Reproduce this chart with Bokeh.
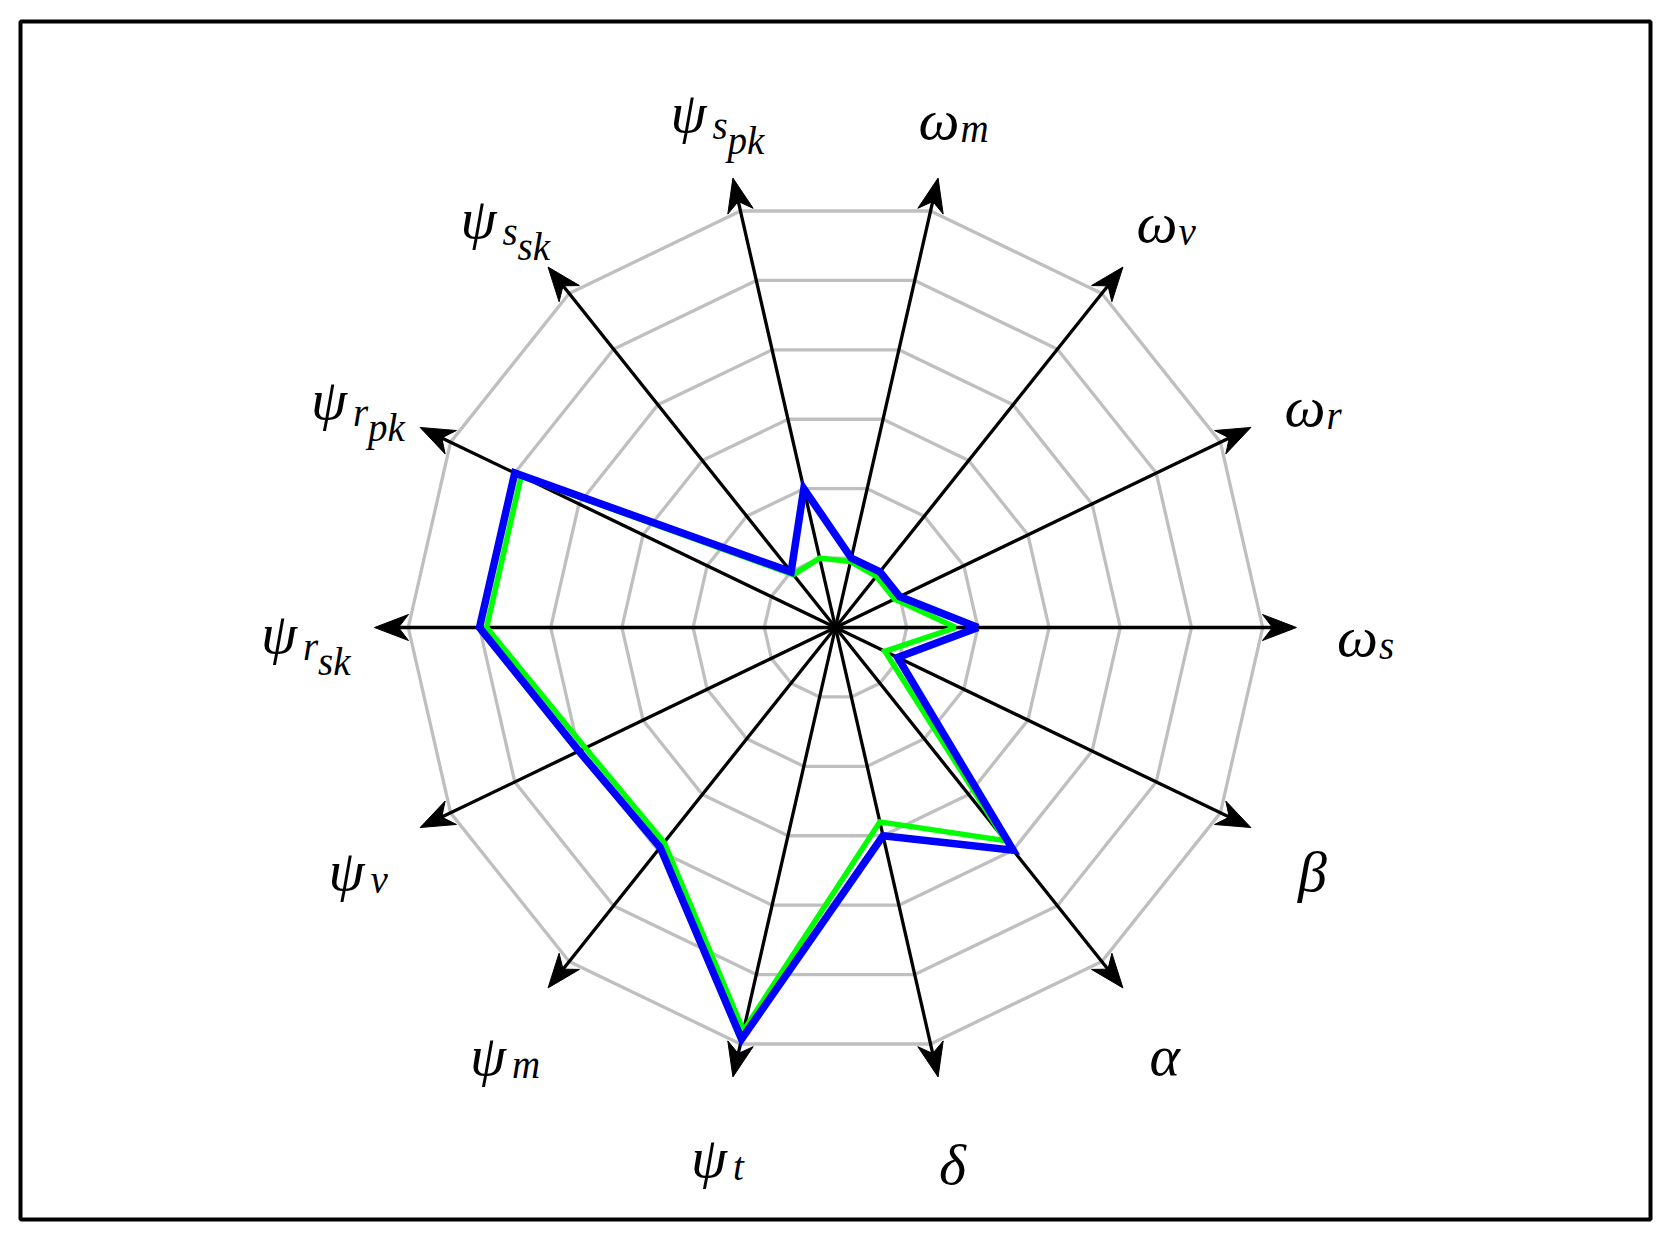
import numpy as np
from bokeh.plotting import figure
from bokeh.models import ColumnDataSource
from bokeh.core.properties import value
from bokeh.embed import file_html
from bokeh.resources import INLINE

# ---------------- data ----------------
symbols = ["ω", "ω", "ω", "ω", "ψ", "ψ", "ψ", "ψ", "ψ", "ψ", "ψ", "δ", "α", "β"]
subs = ["s", "r", "v", "m", "s", "s", "r", "r", "v", "m", "t", "", "", ""]
subsubs = ["", "", "", "", "pk", "sk", "pk", "sk", "", "", "", "", "", ""]
blue_values = [2.0, 1.0, 1.0, 1.0, 2.0, 1.0, 5.0, 5.0, 4.0, 3.95, 5.93, 3.0, 4.0, 0.97]
green_values = [1.69, 0.92, 0.92, 0.95, 1.0, 0.95, 4.9, 4.9, 3.9, 3.86, 5.81, 2.8, 3.83, 0.77]
ring_levels = [1, 2, 3, 4, 5, 6]

# ---------------- geometry / style ----------------
PX = 71.2                      # pixels per ring unit
n = len(symbols)
theta = np.arange(n) * 2 * np.pi / n
R_TIP = 461 / PX
R_LAB = 530 / PX
FONT = value("Liberation Serif")

W, H = 1658, 1234
p = figure(width=W, height=H, output_backend="svg", toolbar_location=None,
           x_axis_type=None, y_axis_type=None,
           x_range=(-815 / PX, 815 / PX), y_range=(-(1219 - 627) / PX, (627 - 21) / PX),
           min_border_left=20, min_border_right=8, min_border_top=21, min_border_bottom=15)
p.grid.visible = False
p.outline_line_color = "black"
p.outline_line_width = 4
p.background_fill_color = "white"
p.border_fill_color = "white"

# grid rings
for lv in ring_levels:
    xs = list(lv * np.cos(theta)) + [lv * np.cos(theta[0])]
    ys = list(lv * np.sin(theta)) + [lv * np.sin(theta[0])]
    p.line(xs, ys, line_color="#bfbfbf", line_width=3.3)

# axes with stealth arrow heads
HEAD_L, HEAD_HW, NOTCH = 34 / PX, 13 / PX, 24 / PX
head_xs, head_ys = [], []
for t in theta:
    c, s = np.cos(t), np.sin(t)
    p.line([0, (R_TIP - NOTCH) * c], [0, (R_TIP - NOTCH) * s], line_color="black", line_width=3.3)
    tip = np.array([R_TIP * c, R_TIP * s])
    back = np.array([(R_TIP - HEAD_L) * c, (R_TIP - HEAD_L) * s])
    notch = np.array([(R_TIP - NOTCH) * c, (R_TIP - NOTCH) * s])
    nrm = np.array([-s, c])
    pts = [tip, back + HEAD_HW * nrm, notch, back - HEAD_HW * nrm]
    head_xs.append([q[0] for q in pts])
    head_ys.append([q[1] for q in pts])
p.patches(head_xs, head_ys, fill_color="black", line_color="black", line_width=1)

def closed(vals):
    v = np.array(vals + vals[:1])
    tt = np.append(theta, theta[0])
    return v * np.cos(tt), v * np.sin(tt)

gx, gy = closed(green_values)
p.line(gx, gy, line_color="#00ff00", line_width=5.5, line_join="miter")
bx, by = closed(blue_values)
p.line(bx, by, line_color="#0000ff", line_width=7.5, line_join="miter")

# ---------------- labels ----------------
FS, SFS = 58, 39
main_w = {"ω": 40, "ψ": 40, "δ": 29, "α": 33, "β": 30}
main_asc = {"ω": 27, "ψ": 39, "δ": 41, "α": 27, "β": 41}
main_desc = {"ω": 0, "ψ": 12, "δ": 0, "α": 0, "β": 12}
sub_w = {"s": 15, "r": 15, "v": 17, "m": 28, "p": 20, "k": 17, "t": 11}

m_rows = dict(x=[], y=[], text=[], xo=[], yo=[])
s_rows = dict(x=[], y=[], text=[], xo=[], yo=[])
for i in range(n):
    ax, ay = R_LAB * np.cos(theta[i]), R_LAB * np.sin(theta[i])
    sym, sb, ssb = symbols[i], subs[i], subsubs[i]
    w_main = main_w[sym]
    w_sub = sum(sub_w[c] for c in sb)
    w_ssub = sum(sub_w[c] for c in ssb)
    total = w_main + (2 + w_sub if sb else 0) + (w_ssub if ssb else 0)
    x0 = -total / 2
    d1 = 13 if ssb else 9
    top = -main_asc[sym]
    bottom = main_desc[sym]
    if sb:
        bottom = max(bottom, d1)
    if ssb:
        bottom = max(bottom, d1 + 15 + (8 if "p" in ssb else 0))
    b = -(top + bottom) / 2
    m_rows["x"].append(ax); m_rows["y"].append(ay); m_rows["text"].append(sym)
    m_rows["xo"].append(x0); m_rows["yo"].append(b)
    if sb:
        s_rows["x"].append(ax); s_rows["y"].append(ay); s_rows["text"].append(sb)
        s_rows["xo"].append(x0 + w_main + 2); s_rows["yo"].append(b + d1)
    if ssb:
        s_rows["x"].append(ax); s_rows["y"].append(ay); s_rows["text"].append(ssb)
        s_rows["xo"].append(x0 + w_main + 2 + w_sub); s_rows["yo"].append(b + d1 + 15)

p.text(x="x", y="y", text="text", x_offset="xo", y_offset="yo", source=ColumnDataSource(m_rows),
       text_font=FONT, text_font_style="italic", text_font_size=f"{FS}px",
       text_align="left", text_baseline="alphabetic", text_color="black")
p.text(x="x", y="y", text="text", x_offset="xo", y_offset="yo", source=ColumnDataSource(s_rows),
       text_font=FONT, text_font_style="italic", text_font_size=f"{SFS}px",
       text_align="left", text_baseline="alphabetic", text_color="black")

open("out.html", "w").write(file_html(p, INLINE))
